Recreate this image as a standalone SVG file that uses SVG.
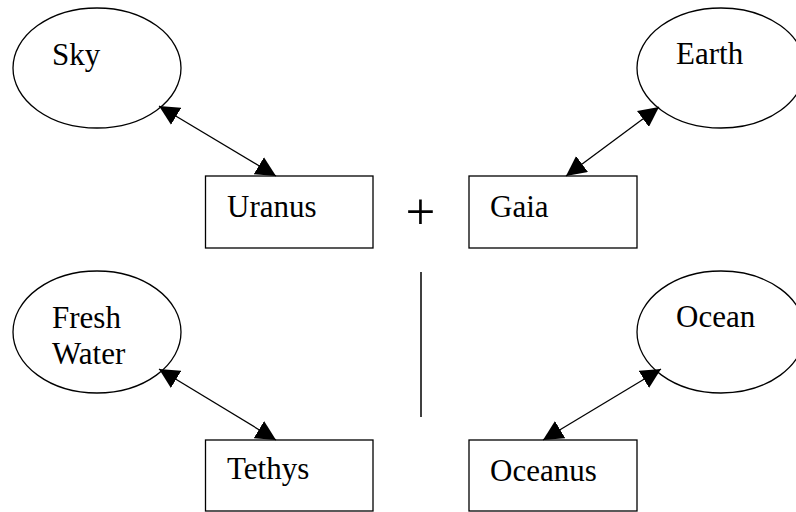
<svg xmlns="http://www.w3.org/2000/svg" width="796" height="512" viewBox="0 0 796 512">
<style>
.shape{fill:#fff;stroke:#000;stroke-width:1.3}
.lbl{font-family:"Liberation Serif","Times New Roman",serif;font-size:31px;fill:#000}
.conn{stroke:#000;stroke-width:1.3;fill:none;marker-start:url(#ah);marker-end:url(#ah)}
</style>
<defs>
<marker id="ah" markerUnits="userSpaceOnUse" markerWidth="20" markerHeight="20" refX="20" refY="10" orient="auto-start-reverse" viewBox="0 0 20 20">
<path d="M0,0 L20,10 L0,20 Z" fill="#000"/>
</marker>
</defs>
<rect width="796" height="512" fill="#fff"/>
<g id="nodes">
<g id="sky"><ellipse class="shape" cx="97" cy="68" rx="84" ry="60"/><text class="lbl" x="52" y="65">Sky</text></g>
<g id="earth"><ellipse class="shape" cx="721" cy="68" rx="84" ry="60"/><text class="lbl" x="676" y="64">Earth</text></g>
<g id="uranus"><rect class="shape" x="205.5" y="176" width="167.5" height="72"/><text class="lbl" x="227" y="217">Uranus</text></g>
<g id="gaia"><rect class="shape" x="469" y="176" width="168" height="72"/><text class="lbl" x="490" y="217">Gaia</text></g>
<g id="freshwater"><ellipse class="shape" cx="97" cy="332" rx="84" ry="61"/><text class="lbl" x="52" y="328">Fresh</text><text class="lbl" x="52" y="364">Water</text></g>
<g id="ocean"><ellipse class="shape" cx="721" cy="332" rx="84" ry="61"/><text class="lbl" x="676" y="327">Ocean</text></g>
<g id="tethys"><rect class="shape" x="205.5" y="440" width="167.5" height="71"/><text class="lbl" x="227" y="479">Tethys</text></g>
<g id="oceanus"><rect class="shape" x="469" y="440" width="168" height="71"/><text class="lbl" x="490" y="481">Oceanus</text></g>
<g id="plus"><text x="420.5" y="229" text-anchor="middle" style="font-family:'Liberation Serif','Times New Roman',serif;font-size:53px;fill:#000">+</text></g>
<g id="divider"><line x1="421" y1="272" x2="421" y2="417" stroke="#000" stroke-width="1.5"/></g>
</g>
<g id="connectors">
<line class="conn" x1="159" y1="106" x2="276" y2="176"/>
<line class="conn" x1="659" y1="107" x2="566" y2="176"/>
<line class="conn" x1="159" y1="369" x2="276" y2="440"/>
<line class="conn" x1="661" y1="369" x2="543" y2="440"/>
</g>
</svg>
